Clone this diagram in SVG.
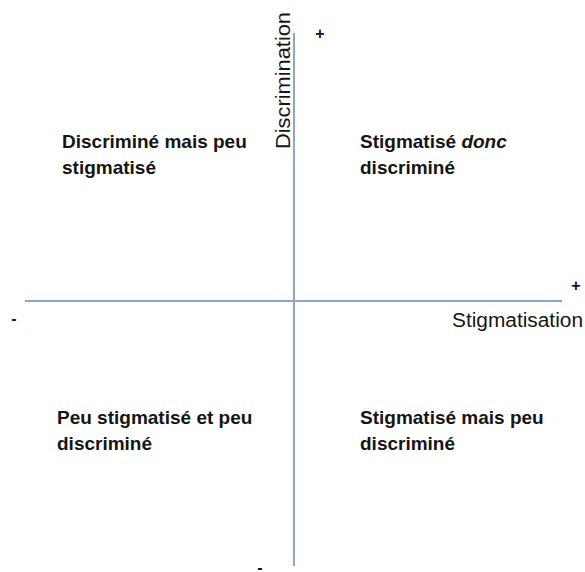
<svg xmlns="http://www.w3.org/2000/svg" width="585" height="572" viewBox="0 0 585 572">
<style>
.axis{stroke:#8fa6c8;stroke-width:2;fill:none}
.lbl{font-family:"Liberation Sans",Arial,sans-serif;font-size:19px;font-weight:bold;fill:#151515}
.ax{font-family:"Liberation Sans",Arial,sans-serif;font-size:20px;fill:#151515}
.sign{font-family:"Liberation Sans",Arial,sans-serif;font-size:16px;font-weight:bold;fill:#151515}
</style>
<rect width="585" height="572" fill="#ffffff"/>
<g id="connectors">
<line class="axis" x1="294" y1="33" x2="294" y2="566"/>
<line class="axis" x1="25" y1="301" x2="562" y2="301"/>
</g>
<g id="axis-discrimination">
<text class="ax" transform="translate(290,149) rotate(-90)" textLength="137" lengthAdjust="spacingAndGlyphs">Discrimination</text>
<text class="sign" x="320" y="39" text-anchor="middle">+</text>
<text class="sign" x="260" y="573" text-anchor="middle">-</text>
</g>
<g id="axis-stigmatisation">
<text class="ax" x="452" y="327" textLength="131" lengthAdjust="spacingAndGlyphs">Stigmatisation</text>
<text class="sign" x="576" y="291" text-anchor="middle">+</text>
<text class="sign" x="14" y="324" text-anchor="middle">-</text>
</g>
<g id="q-top-left">
<text class="lbl" x="62" y="148">Discriminé mais peu</text>
<text class="lbl" x="62" y="174">stigmatisé</text>
</g>
<g id="q-top-right">
<text class="lbl" x="360" y="148">Stigmatisé <tspan font-style="italic">donc</tspan></text>
<text class="lbl" x="360" y="174">discriminé</text>
</g>
<g id="q-bottom-left">
<text class="lbl" x="57" y="424">Peu stigmatisé et peu</text>
<text class="lbl" x="57" y="450">discriminé</text>
</g>
<g id="q-bottom-right">
<text class="lbl" x="360" y="424">Stigmatisé mais peu</text>
<text class="lbl" x="360" y="450">discriminé</text>
</g>
</svg>
